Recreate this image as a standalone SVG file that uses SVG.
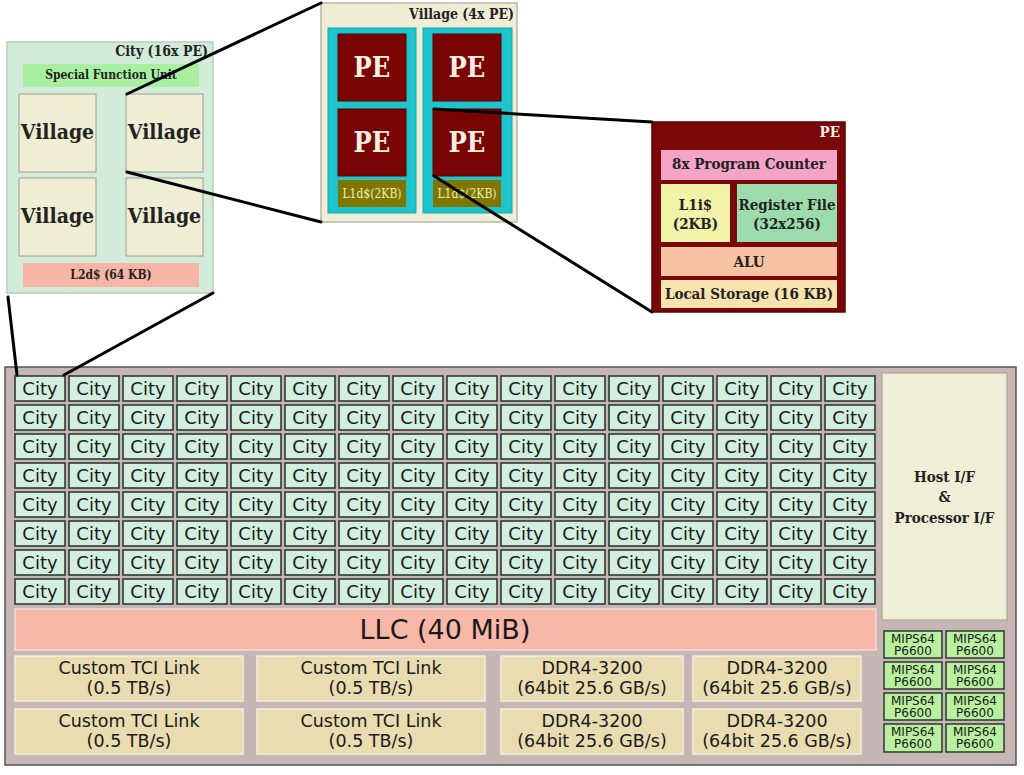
<svg xmlns="http://www.w3.org/2000/svg" width="1024" height="775" viewBox="0 0 1024 775">
<style>
.bg{fill:#ffffff}
.chip{fill:#c6b6b6;stroke:#555;stroke-width:1.5}
.city{fill:#d2eedf;stroke:#2e3a33;stroke-width:1.6}
.ct{font-family:"DejaVu Sans",sans-serif;font-size:18px;fill:#1a1a1a;text-anchor:middle}
.llc{fill:#f8b8a8;stroke:#f4ddd4;stroke-width:1.5}
.io{fill:#e8dcb0;stroke:#f3eee0;stroke-width:1.5}
.iot{font-family:"DejaVu Sans",sans-serif;font-size:17.5px;fill:#1a1a1a;text-anchor:middle}
.host{fill:#efeed6;stroke:#a8a898;stroke-width:1.2}
.mips{fill:#b8f0a0;stroke:#2e3a2e;stroke-width:1.5}
.mt{font-family:"DejaVu Sans",sans-serif;font-size:12px;fill:#1a1a1a;text-anchor:middle}
.sb{font-family:"DejaVu Serif Condensed","DejaVu Serif",serif;font-weight:bold;fill:#222;text-anchor:middle}
.sbr{font-family:"DejaVu Serif Condensed","DejaVu Serif",serif;font-weight:bold;fill:#222;text-anchor:end}
.cityz{fill:#d3ecd9;stroke:#b9cbbd;stroke-width:1.5}
.sfu{fill:#a8f0a0}
.vil{fill:#efedd3;stroke:#a9ab9c;stroke-width:1.2}
.l2{fill:#f7b5a6}
.vbox{fill:#efedd5;stroke:#b8b8a8;stroke-width:1.5}
.cyan{fill:#1ec4cc;stroke:#17a8b0;stroke-width:1}
.pe{fill:#780404;stroke:#5a0202;stroke-width:1}
.l1d{fill:#7e7600}
.pet{font-family:"DejaVu Serif Condensed","DejaVu Serif",serif;font-weight:bold;fill:#f6eee0;text-anchor:middle}
.conn{stroke:#000;stroke-width:3;fill:none;stroke-linecap:round}
</style>
<rect class="bg" x="0" y="0" width="1024" height="775"/>

<!-- Chip -->
<g id="chip">
<rect class="chip" x="5" y="367" width="1011" height="398"/>
</g>

<g id="cities">
<g id="city-0-0"><rect class="city" x="15" y="376" width="50" height="25"/><text class="ct" x="40" y="395">City</text></g>
<g id="city-0-1"><rect class="city" x="69" y="376" width="50" height="25"/><text class="ct" x="94" y="395">City</text></g>
<g id="city-0-2"><rect class="city" x="123" y="376" width="50" height="25"/><text class="ct" x="148" y="395">City</text></g>
<g id="city-0-3"><rect class="city" x="177" y="376" width="50" height="25"/><text class="ct" x="202" y="395">City</text></g>
<g id="city-0-4"><rect class="city" x="231" y="376" width="50" height="25"/><text class="ct" x="256" y="395">City</text></g>
<g id="city-0-5"><rect class="city" x="285" y="376" width="50" height="25"/><text class="ct" x="310" y="395">City</text></g>
<g id="city-0-6"><rect class="city" x="339" y="376" width="50" height="25"/><text class="ct" x="364" y="395">City</text></g>
<g id="city-0-7"><rect class="city" x="393" y="376" width="50" height="25"/><text class="ct" x="418" y="395">City</text></g>
<g id="city-0-8"><rect class="city" x="447" y="376" width="50" height="25"/><text class="ct" x="472" y="395">City</text></g>
<g id="city-0-9"><rect class="city" x="501" y="376" width="50" height="25"/><text class="ct" x="526" y="395">City</text></g>
<g id="city-0-10"><rect class="city" x="555" y="376" width="50" height="25"/><text class="ct" x="580" y="395">City</text></g>
<g id="city-0-11"><rect class="city" x="609" y="376" width="50" height="25"/><text class="ct" x="634" y="395">City</text></g>
<g id="city-0-12"><rect class="city" x="663" y="376" width="50" height="25"/><text class="ct" x="688" y="395">City</text></g>
<g id="city-0-13"><rect class="city" x="717" y="376" width="50" height="25"/><text class="ct" x="742" y="395">City</text></g>
<g id="city-0-14"><rect class="city" x="771" y="376" width="50" height="25"/><text class="ct" x="796" y="395">City</text></g>
<g id="city-0-15"><rect class="city" x="825" y="376" width="50" height="25"/><text class="ct" x="850" y="395">City</text></g>
<g id="city-1-0"><rect class="city" x="15" y="405" width="50" height="25"/><text class="ct" x="40" y="424">City</text></g>
<g id="city-1-1"><rect class="city" x="69" y="405" width="50" height="25"/><text class="ct" x="94" y="424">City</text></g>
<g id="city-1-2"><rect class="city" x="123" y="405" width="50" height="25"/><text class="ct" x="148" y="424">City</text></g>
<g id="city-1-3"><rect class="city" x="177" y="405" width="50" height="25"/><text class="ct" x="202" y="424">City</text></g>
<g id="city-1-4"><rect class="city" x="231" y="405" width="50" height="25"/><text class="ct" x="256" y="424">City</text></g>
<g id="city-1-5"><rect class="city" x="285" y="405" width="50" height="25"/><text class="ct" x="310" y="424">City</text></g>
<g id="city-1-6"><rect class="city" x="339" y="405" width="50" height="25"/><text class="ct" x="364" y="424">City</text></g>
<g id="city-1-7"><rect class="city" x="393" y="405" width="50" height="25"/><text class="ct" x="418" y="424">City</text></g>
<g id="city-1-8"><rect class="city" x="447" y="405" width="50" height="25"/><text class="ct" x="472" y="424">City</text></g>
<g id="city-1-9"><rect class="city" x="501" y="405" width="50" height="25"/><text class="ct" x="526" y="424">City</text></g>
<g id="city-1-10"><rect class="city" x="555" y="405" width="50" height="25"/><text class="ct" x="580" y="424">City</text></g>
<g id="city-1-11"><rect class="city" x="609" y="405" width="50" height="25"/><text class="ct" x="634" y="424">City</text></g>
<g id="city-1-12"><rect class="city" x="663" y="405" width="50" height="25"/><text class="ct" x="688" y="424">City</text></g>
<g id="city-1-13"><rect class="city" x="717" y="405" width="50" height="25"/><text class="ct" x="742" y="424">City</text></g>
<g id="city-1-14"><rect class="city" x="771" y="405" width="50" height="25"/><text class="ct" x="796" y="424">City</text></g>
<g id="city-1-15"><rect class="city" x="825" y="405" width="50" height="25"/><text class="ct" x="850" y="424">City</text></g>
<g id="city-2-0"><rect class="city" x="15" y="434" width="50" height="25"/><text class="ct" x="40" y="453">City</text></g>
<g id="city-2-1"><rect class="city" x="69" y="434" width="50" height="25"/><text class="ct" x="94" y="453">City</text></g>
<g id="city-2-2"><rect class="city" x="123" y="434" width="50" height="25"/><text class="ct" x="148" y="453">City</text></g>
<g id="city-2-3"><rect class="city" x="177" y="434" width="50" height="25"/><text class="ct" x="202" y="453">City</text></g>
<g id="city-2-4"><rect class="city" x="231" y="434" width="50" height="25"/><text class="ct" x="256" y="453">City</text></g>
<g id="city-2-5"><rect class="city" x="285" y="434" width="50" height="25"/><text class="ct" x="310" y="453">City</text></g>
<g id="city-2-6"><rect class="city" x="339" y="434" width="50" height="25"/><text class="ct" x="364" y="453">City</text></g>
<g id="city-2-7"><rect class="city" x="393" y="434" width="50" height="25"/><text class="ct" x="418" y="453">City</text></g>
<g id="city-2-8"><rect class="city" x="447" y="434" width="50" height="25"/><text class="ct" x="472" y="453">City</text></g>
<g id="city-2-9"><rect class="city" x="501" y="434" width="50" height="25"/><text class="ct" x="526" y="453">City</text></g>
<g id="city-2-10"><rect class="city" x="555" y="434" width="50" height="25"/><text class="ct" x="580" y="453">City</text></g>
<g id="city-2-11"><rect class="city" x="609" y="434" width="50" height="25"/><text class="ct" x="634" y="453">City</text></g>
<g id="city-2-12"><rect class="city" x="663" y="434" width="50" height="25"/><text class="ct" x="688" y="453">City</text></g>
<g id="city-2-13"><rect class="city" x="717" y="434" width="50" height="25"/><text class="ct" x="742" y="453">City</text></g>
<g id="city-2-14"><rect class="city" x="771" y="434" width="50" height="25"/><text class="ct" x="796" y="453">City</text></g>
<g id="city-2-15"><rect class="city" x="825" y="434" width="50" height="25"/><text class="ct" x="850" y="453">City</text></g>
<g id="city-3-0"><rect class="city" x="15" y="463" width="50" height="25"/><text class="ct" x="40" y="482">City</text></g>
<g id="city-3-1"><rect class="city" x="69" y="463" width="50" height="25"/><text class="ct" x="94" y="482">City</text></g>
<g id="city-3-2"><rect class="city" x="123" y="463" width="50" height="25"/><text class="ct" x="148" y="482">City</text></g>
<g id="city-3-3"><rect class="city" x="177" y="463" width="50" height="25"/><text class="ct" x="202" y="482">City</text></g>
<g id="city-3-4"><rect class="city" x="231" y="463" width="50" height="25"/><text class="ct" x="256" y="482">City</text></g>
<g id="city-3-5"><rect class="city" x="285" y="463" width="50" height="25"/><text class="ct" x="310" y="482">City</text></g>
<g id="city-3-6"><rect class="city" x="339" y="463" width="50" height="25"/><text class="ct" x="364" y="482">City</text></g>
<g id="city-3-7"><rect class="city" x="393" y="463" width="50" height="25"/><text class="ct" x="418" y="482">City</text></g>
<g id="city-3-8"><rect class="city" x="447" y="463" width="50" height="25"/><text class="ct" x="472" y="482">City</text></g>
<g id="city-3-9"><rect class="city" x="501" y="463" width="50" height="25"/><text class="ct" x="526" y="482">City</text></g>
<g id="city-3-10"><rect class="city" x="555" y="463" width="50" height="25"/><text class="ct" x="580" y="482">City</text></g>
<g id="city-3-11"><rect class="city" x="609" y="463" width="50" height="25"/><text class="ct" x="634" y="482">City</text></g>
<g id="city-3-12"><rect class="city" x="663" y="463" width="50" height="25"/><text class="ct" x="688" y="482">City</text></g>
<g id="city-3-13"><rect class="city" x="717" y="463" width="50" height="25"/><text class="ct" x="742" y="482">City</text></g>
<g id="city-3-14"><rect class="city" x="771" y="463" width="50" height="25"/><text class="ct" x="796" y="482">City</text></g>
<g id="city-3-15"><rect class="city" x="825" y="463" width="50" height="25"/><text class="ct" x="850" y="482">City</text></g>
<g id="city-4-0"><rect class="city" x="15" y="492" width="50" height="25"/><text class="ct" x="40" y="511">City</text></g>
<g id="city-4-1"><rect class="city" x="69" y="492" width="50" height="25"/><text class="ct" x="94" y="511">City</text></g>
<g id="city-4-2"><rect class="city" x="123" y="492" width="50" height="25"/><text class="ct" x="148" y="511">City</text></g>
<g id="city-4-3"><rect class="city" x="177" y="492" width="50" height="25"/><text class="ct" x="202" y="511">City</text></g>
<g id="city-4-4"><rect class="city" x="231" y="492" width="50" height="25"/><text class="ct" x="256" y="511">City</text></g>
<g id="city-4-5"><rect class="city" x="285" y="492" width="50" height="25"/><text class="ct" x="310" y="511">City</text></g>
<g id="city-4-6"><rect class="city" x="339" y="492" width="50" height="25"/><text class="ct" x="364" y="511">City</text></g>
<g id="city-4-7"><rect class="city" x="393" y="492" width="50" height="25"/><text class="ct" x="418" y="511">City</text></g>
<g id="city-4-8"><rect class="city" x="447" y="492" width="50" height="25"/><text class="ct" x="472" y="511">City</text></g>
<g id="city-4-9"><rect class="city" x="501" y="492" width="50" height="25"/><text class="ct" x="526" y="511">City</text></g>
<g id="city-4-10"><rect class="city" x="555" y="492" width="50" height="25"/><text class="ct" x="580" y="511">City</text></g>
<g id="city-4-11"><rect class="city" x="609" y="492" width="50" height="25"/><text class="ct" x="634" y="511">City</text></g>
<g id="city-4-12"><rect class="city" x="663" y="492" width="50" height="25"/><text class="ct" x="688" y="511">City</text></g>
<g id="city-4-13"><rect class="city" x="717" y="492" width="50" height="25"/><text class="ct" x="742" y="511">City</text></g>
<g id="city-4-14"><rect class="city" x="771" y="492" width="50" height="25"/><text class="ct" x="796" y="511">City</text></g>
<g id="city-4-15"><rect class="city" x="825" y="492" width="50" height="25"/><text class="ct" x="850" y="511">City</text></g>
<g id="city-5-0"><rect class="city" x="15" y="521" width="50" height="25"/><text class="ct" x="40" y="540">City</text></g>
<g id="city-5-1"><rect class="city" x="69" y="521" width="50" height="25"/><text class="ct" x="94" y="540">City</text></g>
<g id="city-5-2"><rect class="city" x="123" y="521" width="50" height="25"/><text class="ct" x="148" y="540">City</text></g>
<g id="city-5-3"><rect class="city" x="177" y="521" width="50" height="25"/><text class="ct" x="202" y="540">City</text></g>
<g id="city-5-4"><rect class="city" x="231" y="521" width="50" height="25"/><text class="ct" x="256" y="540">City</text></g>
<g id="city-5-5"><rect class="city" x="285" y="521" width="50" height="25"/><text class="ct" x="310" y="540">City</text></g>
<g id="city-5-6"><rect class="city" x="339" y="521" width="50" height="25"/><text class="ct" x="364" y="540">City</text></g>
<g id="city-5-7"><rect class="city" x="393" y="521" width="50" height="25"/><text class="ct" x="418" y="540">City</text></g>
<g id="city-5-8"><rect class="city" x="447" y="521" width="50" height="25"/><text class="ct" x="472" y="540">City</text></g>
<g id="city-5-9"><rect class="city" x="501" y="521" width="50" height="25"/><text class="ct" x="526" y="540">City</text></g>
<g id="city-5-10"><rect class="city" x="555" y="521" width="50" height="25"/><text class="ct" x="580" y="540">City</text></g>
<g id="city-5-11"><rect class="city" x="609" y="521" width="50" height="25"/><text class="ct" x="634" y="540">City</text></g>
<g id="city-5-12"><rect class="city" x="663" y="521" width="50" height="25"/><text class="ct" x="688" y="540">City</text></g>
<g id="city-5-13"><rect class="city" x="717" y="521" width="50" height="25"/><text class="ct" x="742" y="540">City</text></g>
<g id="city-5-14"><rect class="city" x="771" y="521" width="50" height="25"/><text class="ct" x="796" y="540">City</text></g>
<g id="city-5-15"><rect class="city" x="825" y="521" width="50" height="25"/><text class="ct" x="850" y="540">City</text></g>
<g id="city-6-0"><rect class="city" x="15" y="550" width="50" height="25"/><text class="ct" x="40" y="569">City</text></g>
<g id="city-6-1"><rect class="city" x="69" y="550" width="50" height="25"/><text class="ct" x="94" y="569">City</text></g>
<g id="city-6-2"><rect class="city" x="123" y="550" width="50" height="25"/><text class="ct" x="148" y="569">City</text></g>
<g id="city-6-3"><rect class="city" x="177" y="550" width="50" height="25"/><text class="ct" x="202" y="569">City</text></g>
<g id="city-6-4"><rect class="city" x="231" y="550" width="50" height="25"/><text class="ct" x="256" y="569">City</text></g>
<g id="city-6-5"><rect class="city" x="285" y="550" width="50" height="25"/><text class="ct" x="310" y="569">City</text></g>
<g id="city-6-6"><rect class="city" x="339" y="550" width="50" height="25"/><text class="ct" x="364" y="569">City</text></g>
<g id="city-6-7"><rect class="city" x="393" y="550" width="50" height="25"/><text class="ct" x="418" y="569">City</text></g>
<g id="city-6-8"><rect class="city" x="447" y="550" width="50" height="25"/><text class="ct" x="472" y="569">City</text></g>
<g id="city-6-9"><rect class="city" x="501" y="550" width="50" height="25"/><text class="ct" x="526" y="569">City</text></g>
<g id="city-6-10"><rect class="city" x="555" y="550" width="50" height="25"/><text class="ct" x="580" y="569">City</text></g>
<g id="city-6-11"><rect class="city" x="609" y="550" width="50" height="25"/><text class="ct" x="634" y="569">City</text></g>
<g id="city-6-12"><rect class="city" x="663" y="550" width="50" height="25"/><text class="ct" x="688" y="569">City</text></g>
<g id="city-6-13"><rect class="city" x="717" y="550" width="50" height="25"/><text class="ct" x="742" y="569">City</text></g>
<g id="city-6-14"><rect class="city" x="771" y="550" width="50" height="25"/><text class="ct" x="796" y="569">City</text></g>
<g id="city-6-15"><rect class="city" x="825" y="550" width="50" height="25"/><text class="ct" x="850" y="569">City</text></g>
<g id="city-7-0"><rect class="city" x="15" y="579" width="50" height="25"/><text class="ct" x="40" y="598">City</text></g>
<g id="city-7-1"><rect class="city" x="69" y="579" width="50" height="25"/><text class="ct" x="94" y="598">City</text></g>
<g id="city-7-2"><rect class="city" x="123" y="579" width="50" height="25"/><text class="ct" x="148" y="598">City</text></g>
<g id="city-7-3"><rect class="city" x="177" y="579" width="50" height="25"/><text class="ct" x="202" y="598">City</text></g>
<g id="city-7-4"><rect class="city" x="231" y="579" width="50" height="25"/><text class="ct" x="256" y="598">City</text></g>
<g id="city-7-5"><rect class="city" x="285" y="579" width="50" height="25"/><text class="ct" x="310" y="598">City</text></g>
<g id="city-7-6"><rect class="city" x="339" y="579" width="50" height="25"/><text class="ct" x="364" y="598">City</text></g>
<g id="city-7-7"><rect class="city" x="393" y="579" width="50" height="25"/><text class="ct" x="418" y="598">City</text></g>
<g id="city-7-8"><rect class="city" x="447" y="579" width="50" height="25"/><text class="ct" x="472" y="598">City</text></g>
<g id="city-7-9"><rect class="city" x="501" y="579" width="50" height="25"/><text class="ct" x="526" y="598">City</text></g>
<g id="city-7-10"><rect class="city" x="555" y="579" width="50" height="25"/><text class="ct" x="580" y="598">City</text></g>
<g id="city-7-11"><rect class="city" x="609" y="579" width="50" height="25"/><text class="ct" x="634" y="598">City</text></g>
<g id="city-7-12"><rect class="city" x="663" y="579" width="50" height="25"/><text class="ct" x="688" y="598">City</text></g>
<g id="city-7-13"><rect class="city" x="717" y="579" width="50" height="25"/><text class="ct" x="742" y="598">City</text></g>
<g id="city-7-14"><rect class="city" x="771" y="579" width="50" height="25"/><text class="ct" x="796" y="598">City</text></g>
<g id="city-7-15"><rect class="city" x="825" y="579" width="50" height="25"/><text class="ct" x="850" y="598">City</text></g>
</g>

<g id="llc"><rect class="llc" x="15" y="609" width="861" height="41"/><text x="445" y="639" style="font-family:'DejaVu Sans',sans-serif;font-size:27px;fill:#1a1a1a;text-anchor:middle">LLC (40 MiB)</text></g>

<g id="tci-1"><rect class="io" x="15" y="656" width="228" height="45"/><text class="iot" x="129" y="674">Custom TCI Link</text><text class="iot" x="129" y="694">(0.5 TB/s)</text></g>
<g id="tci-2"><rect class="io" x="257" y="656" width="228" height="45"/><text class="iot" x="371" y="674">Custom TCI Link</text><text class="iot" x="371" y="694">(0.5 TB/s)</text></g>
<g id="tci-3"><rect class="io" x="15" y="709" width="228" height="45"/><text class="iot" x="129" y="727">Custom TCI Link</text><text class="iot" x="129" y="747">(0.5 TB/s)</text></g>
<g id="tci-4"><rect class="io" x="257" y="709" width="228" height="45"/><text class="iot" x="371" y="727">Custom TCI Link</text><text class="iot" x="371" y="747">(0.5 TB/s)</text></g>
<g id="ddr-1"><rect class="io" x="501" y="656" width="182" height="45"/><text class="iot" x="592" y="674">DDR4-3200</text><text class="iot" x="592" y="694">(64bit 25.6 GB/s)</text></g>
<g id="ddr-2"><rect class="io" x="693" y="656" width="168" height="45"/><text class="iot" x="777" y="674">DDR4-3200</text><text class="iot" x="777" y="694">(64bit 25.6 GB/s)</text></g>
<g id="ddr-3"><rect class="io" x="501" y="709" width="182" height="45"/><text class="iot" x="592" y="727">DDR4-3200</text><text class="iot" x="592" y="747">(64bit 25.6 GB/s)</text></g>
<g id="ddr-4"><rect class="io" x="693" y="709" width="168" height="45"/><text class="iot" x="777" y="727">DDR4-3200</text><text class="iot" x="777" y="747">(64bit 25.6 GB/s)</text></g>

<g id="host"><rect class="host" x="882" y="373" width="125" height="247"/>
<text class="sb" x="944.5" y="482" font-size="15">Host I/F</text>
<text class="sb" x="944.5" y="502" font-size="15">&amp;</text>
<text class="sb" x="944.5" y="523" font-size="15">Processor I/F</text></g>

<g id="mips-1"><rect class="mips" x="884" y="631" width="58" height="27"/><text class="mt" x="913" y="643">MIPS64</text><text class="mt" x="913" y="655">P6600</text></g>
<g id="mips-2"><rect class="mips" x="946" y="631" width="58" height="27"/><text class="mt" x="975" y="643">MIPS64</text><text class="mt" x="975" y="655">P6600</text></g>
<g id="mips-3"><rect class="mips" x="884" y="662" width="58" height="27"/><text class="mt" x="913" y="674">MIPS64</text><text class="mt" x="913" y="686">P6600</text></g>
<g id="mips-4"><rect class="mips" x="946" y="662" width="58" height="27"/><text class="mt" x="975" y="674">MIPS64</text><text class="mt" x="975" y="686">P6600</text></g>
<g id="mips-5"><rect class="mips" x="884" y="693" width="58" height="27"/><text class="mt" x="913" y="705">MIPS64</text><text class="mt" x="913" y="717">P6600</text></g>
<g id="mips-6"><rect class="mips" x="946" y="693" width="58" height="27"/><text class="mt" x="975" y="705">MIPS64</text><text class="mt" x="975" y="717">P6600</text></g>
<g id="mips-7"><rect class="mips" x="884" y="724" width="58" height="28"/><text class="mt" x="913" y="736">MIPS64</text><text class="mt" x="913" y="748">P6600</text></g>
<g id="mips-8"><rect class="mips" x="946" y="724" width="58" height="28"/><text class="mt" x="975" y="736">MIPS64</text><text class="mt" x="975" y="748">P6600</text></g>

<!-- City zoom -->
<g id="city-detail">
<rect class="cityz" x="7" y="42" width="206" height="251"/>
<text class="sbr" x="208" y="56" font-size="14">City (16x PE)</text>
<rect class="sfu" x="23" y="64" width="176" height="23"/>
<text class="sb" x="111" y="79" font-size="12">Special Function Unit</text>
<rect class="vil" x="19" y="94" width="77" height="78"/><text class="sb" x="57.5" y="139" font-size="21">Village</text>
<rect class="vil" x="126" y="94" width="77" height="78"/><text class="sb" x="164.5" y="139" font-size="21">Village</text>
<rect class="vil" x="19" y="178" width="77" height="78"/><text class="sb" x="57.5" y="223" font-size="21">Village</text>
<rect class="vil" x="126" y="178" width="77" height="78"/><text class="sb" x="164.5" y="223" font-size="21">Village</text>
<rect class="l2" x="23" y="263" width="176" height="24"/>
<text class="sb" x="111" y="279" font-size="12">L2d$ (64 KB)</text>
</g>

<!-- Village zoom -->
<g id="village-detail">
<rect class="vbox" x="321" y="3" width="196" height="219"/>
<text class="sbr" x="514" y="19" font-size="14">Village (4x PE)</text>
<rect class="cyan" x="328" y="28" width="88" height="185"/>
<rect class="cyan" x="423" y="28" width="89" height="185"/>
<rect class="pe" x="338" y="34" width="68" height="67"/><text class="pet" x="372" y="77" font-size="27">PE</text>
<rect class="pe" x="433" y="34" width="68" height="67"/><text class="pet" x="467" y="77" font-size="27">PE</text>
<rect class="pe" x="338" y="109" width="68" height="67"/><text class="pet" x="372" y="152" font-size="27">PE</text>
<rect class="pe" x="433" y="109" width="68" height="67"/><text class="pet" x="467" y="152" font-size="27">PE</text>
<rect class="l1d" x="338" y="180" width="68" height="27"/><text class="pet" x="372" y="198" font-size="12" style="font-weight:normal;fill:#f2eeb8">L1d$(2KB)</text>
<rect class="l1d" x="433" y="180" width="68" height="27"/><text class="pet" x="467" y="198" font-size="12" style="font-weight:normal;fill:#f2eeb8">L1d$(2KB)</text>
</g>

<!-- PE zoom -->
<g id="pe-detail">
<rect x="652" y="122" width="193" height="190" fill="#7a0808" stroke="#5c0000" stroke-width="1.5"/>
<text class="sbr" x="840" y="137" font-size="15" style="fill:#fbefe6">PE</text>
<rect x="661" y="150" width="176" height="30" fill="#f4a4c6"/>
<text class="sb" x="749" y="169" font-size="15">8x Program Counter</text>
<rect x="661" y="184" width="69" height="58" fill="#f2f2a8"/>
<text class="sb" x="695.5" y="210" font-size="15">L1i$</text>
<text class="sb" x="695.5" y="229" font-size="15">(2KB)</text>
<rect x="737" y="184" width="100" height="58" fill="#9cdcac"/>
<text class="sb" x="787" y="210" font-size="15">Register File</text>
<text class="sb" x="787" y="229" font-size="15">(32x256)</text>
<rect x="661" y="247" width="176" height="29" fill="#f8c2a4"/>
<text class="sb" x="749" y="267" font-size="15">ALU</text>
<rect x="661" y="280" width="176" height="28" fill="#f8e2ae"/>
<text class="sb" x="749" y="299" font-size="15">Local Storage (16 KB)</text>
</g>

<g id="connectors">
<line class="conn" x1="8" y1="297" x2="17" y2="375"/>
<line class="conn" x1="213" y1="293" x2="64" y2="375"/>
<line class="conn" x1="127" y1="94" x2="321" y2="3"/>
<line class="conn" x1="127" y1="172" x2="321" y2="222"/>
<line class="conn" x1="434" y1="109" x2="652" y2="122"/>
<line class="conn" x1="434" y1="176" x2="652" y2="312"/>
</g>
</svg>
